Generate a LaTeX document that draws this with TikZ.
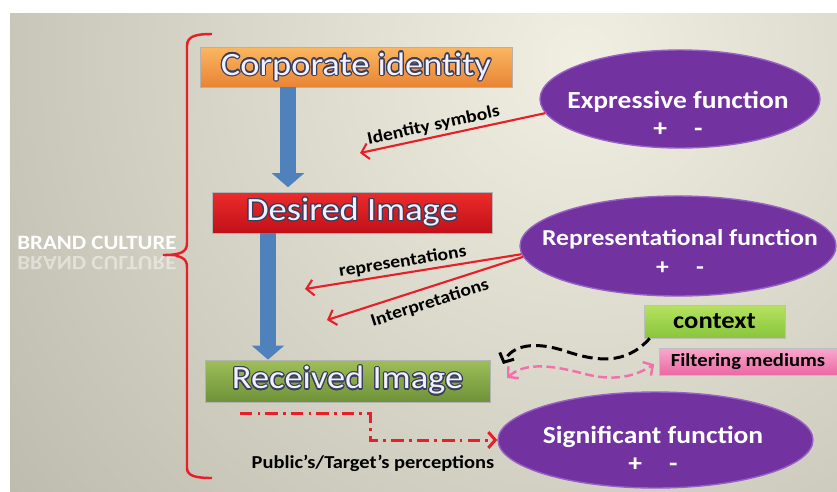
\documentclass[tikz,border=0pt]{standalone}
\usepackage{fontspec}
\setmainfont{Carlito}[FakeStretch=1.12]
\usepackage{mathtools}
\usepackage{contour}
\usepackage{tikz}
\usetikzlibrary{arrows.meta,shapes.geometric}
\contourlength{0.7pt}
\definecolor{bc_orange_t}{RGB}{251, 182, 96}
\definecolor{bc_orange_b}{RGB}{232, 132, 52}
\definecolor{bc_red_t}{RGB}{236, 44, 44}
\definecolor{bc_red_b}{RGB}{192, 16, 24}
\definecolor{bc_green_t}{RGB}{158, 190, 88}
\definecolor{bc_green_b}{RGB}{110, 146, 56}
\definecolor{bc_lime_t}{RGB}{182, 226, 96}
\definecolor{bc_lime_b}{RGB}{136, 198, 60}
\definecolor{bc_pink_t}{RGB}{248, 168, 206}
\definecolor{bc_pink_b}{RGB}{236, 104, 164}
\definecolor{bc_purple}{RGB}{114, 50, 160}
\definecolor{bc_rim}{RGB}{150, 96, 196}
\definecolor{bc_blue}{RGB}{79, 129, 189}
\definecolor{bc_line}{RGB}{232, 30, 40}
\definecolor{bc_pinkline}{RGB}{242, 112, 172}
\definecolor{bc_outline}{RGB}{58, 62, 92}
\definecolor{bc_bg_light}{RGB}{240, 239, 226}
\definecolor{bc_bg_dark}{RGB}{160, 157, 142}
\tikzstyle{box}=[rectangle,draw=black!30,line width=0.4pt,inner sep=0pt,
  text=white!94!blue,font=\fontsize{18.5}{20}\selectfont]
\tikzstyle{ob}=[box,top color=bc_orange_t,bottom color=bc_orange_b,
  minimum width=6.24cm,minimum height=0.8cm]
\tikzstyle{rb}=[box,top color=bc_red_t,bottom color=bc_red_b,
  minimum width=5.6cm,minimum height=0.82cm]
\tikzstyle{gb}=[box,top color=bc_green_t,bottom color=bc_green_b,
  minimum width=5.7cm,minimum height=0.84cm]
\tikzstyle{sb}=[rectangle,draw=black!25,line width=0.4pt,inner sep=0pt,
  text=black,font=\bfseries]
\tikzstyle{pe}=[ellipse,fill=bc_purple,draw=bc_rim,line width=0.8pt,inner sep=0pt]
\tikzstyle{pt}=[text=white,align=center,inner sep=0pt,
  font=\fontsize{14}{15}\selectfont\bfseries]
\tikzstyle{lbl}=[text=black,inner sep=1.5pt,font=\fontsize{10}{12}\selectfont\bfseries]
\tikzstyle{ba}=[draw=bc_blue,line width=9pt,-{Triangle[width=18pt,length=8pt]}]
\tikzstyle{ra}=[draw=bc_line,line width=1.2pt,{Straight Barb[length=4pt,width=9pt]}-]
\tikzstyle{kd}=[draw=black,line width=1.7pt,dash pattern=on 6pt off 3pt,
  -{Straight Barb[length=4pt,width=9pt]}]
\tikzstyle{pd}=[draw=bc_pinkline,line width=1.4pt,dash pattern=on 5pt off 2.5pt,
  {Straight Barb[length=4pt,width=9pt]}-{Straight Barb[length=4pt,width=9pt]}]
\tikzstyle{dd}=[draw=bc_line,line width=1.7pt,dash pattern=on 7pt off 3pt on 1.5pt off 3pt,
  -{Straight Barb[length=4pt,width=9pt]}]
\tikzstyle{none}=[]

\begin{document}
\begin{tikzpicture}[x=0.02cm,y=-0.02cm]
        \useasboundingbox (0,0) rectangle (837,491);
        \begin{scope}
                \clip (10,13) rectangle (837,491);
                \shade [inner color=bc_bg_light,outer color=bc_bg_dark] (580,60) circle (1150);
        \end{scope}
        % brace and its label
        \draw [draw=bc_line,line width=1.4pt] (212,34) .. controls (196,34) and (187,36) .. (187,46)
          -- (187,243) .. controls (187,252) and (181,255) .. (163,255)
          .. controls (181,255) and (187,258) .. (187,267) -- (187,468)
          .. controls (187,476) and (196,478) .. (212,478);
        \node [style=none,text=white,font=\fontsize{11.6}{12}\selectfont\bfseries] (b0) at (97,243) {BRAND CULTURE};
        \node [style=none,text=white,opacity=0.45,yscale=-1,font=\fontsize{11.6}{12}\selectfont\bfseries] (b1) at (97,263) {BRAND CULTURE};
        % boxes
        \node [style=ob] (0) at (356,67) {\contour{bc_outline}{Corporate identity}};
        \node [style=rb] (1) at (352,212.5) {\contour{bc_outline}{Desired Image}};
        \node [style=gb] (2) at (347.5,381) {\contour{bc_outline}{Received Image}};
        \node [style=sb,top color=bc_lime_t,bottom color=bc_lime_b,minimum width=2.82cm,
          minimum height=0.66cm,font=\fontsize{13.5}{15}\selectfont\bfseries] (5) at (714.5,321.5) {context};
        \node [style=sb,top color=bc_pink_t,bottom color=bc_pink_b,minimum width=3.56cm,
          minimum height=0.54cm,font=\fontsize{10.5}{12}\selectfont\bfseries] (6) at (748,361.5) {Filtering mediums};
        % functions
        \node [style=pe,minimum width=5.6cm,minimum height=1.96cm] (3) at (680,99) {};
        \node [style=pt] (3t) at (678,114) {Expressive function\\[1pt]+\hspace{1.1em}-};
        \node [style=pe,minimum width=6.32cm,minimum height=2cm] (4) at (678,246) {};
        \node [style=pt,font=\fontsize{13}{15}\selectfont\bfseries] (4t) at (680,252) {Representational function\\[1pt]+\hspace{1.2em}-};
        \node [style=pe,minimum width=6.3cm,minimum height=1.92cm] (7) at (655.5,440) {};
        \node [style=pt] (7t) at (653,449) {Significant function\\[1pt]+\hspace{1.1em}-};
        % free ends
        \coordinate (a0) at (288,0);
        \coordinate (a1) at (268,0);
        \coordinate (c0) at (360,153);
        \coordinate (c1) at (305,289);
        \coordinate (c2) at (327,320);
        \coordinate (8) at (240,413);
        \coordinate (9) at (503,364);
        \coordinate (10) at (507,378);
        % connectors
        \draw [style=ba,shorten >=2.5pt] (0.south -| a0) to (1.north -| a0);
        \draw [style=ba] (1.south -| a1) to (2.north -| a1);
        \draw [style=ra] (c0) -- node [style=lbl,pos=0.41,above,sloped] {Identity symbols} (3.186);
        \draw [style=ra] (c1) -- node [style=lbl,pos=0.46,above,sloped] {representations} (4.183);
        \draw [style=ra] (c2) -- node [style=lbl,pos=0.5,below,sloped,inner sep=4pt] {Interpretations} (4.184);
        \draw [style=kd] ([xshift=0.12cm]5.south west) .. controls (625,366) and (595,361) .. (565,351)
          .. controls (535,341) and (512,345) .. (9);
        \draw [style=pd,shorten >=3pt] (10) .. controls (524,363) and (548,364) .. (585,374)
          .. controls (620,383) and (640,373) .. (6.west);
        \draw [style=dd] (8) -- (370,413) -- (370,440) -- (7.west);
        \node [style=lbl,font=\fontsize{10.4}{12}\selectfont\bfseries] (11) at (373,463) {Public’s/Target’s perceptions};
\end{tikzpicture}
\end{document}
